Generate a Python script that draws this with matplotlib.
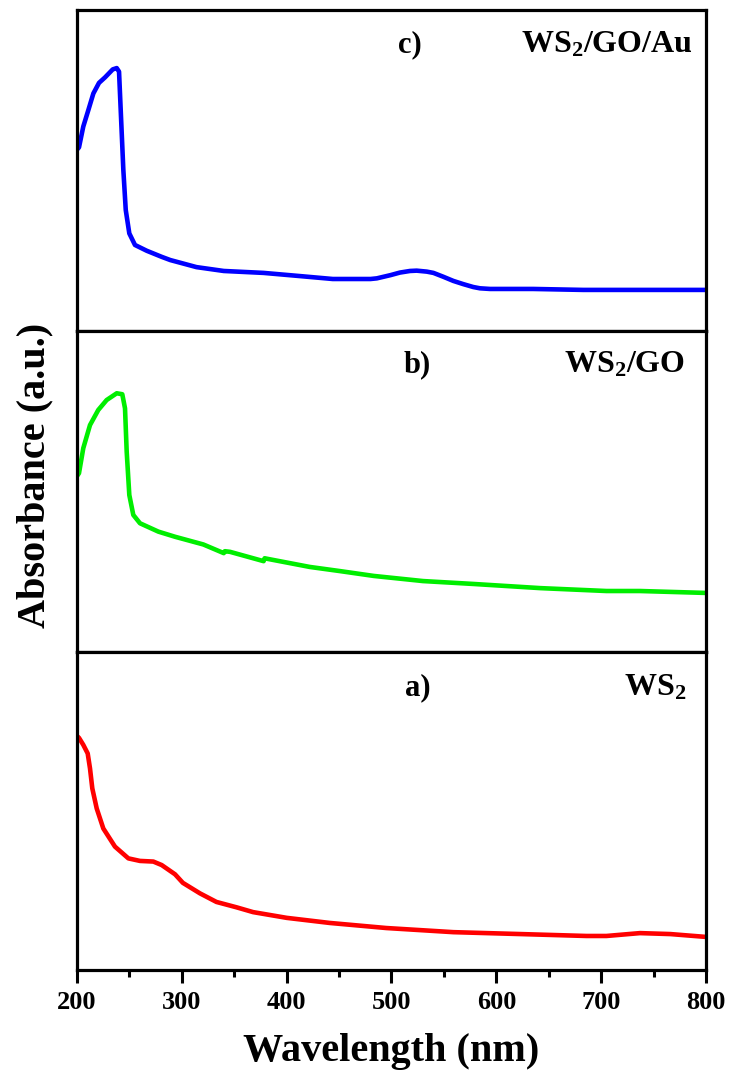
import matplotlib
matplotlib.use("Agg")
import matplotlib.pyplot as plt
from matplotlib.ticker import MultipleLocator

plt.rcParams['font.family'] = ['Liberation Serif', 'DejaVu Serif']
plt.rcParams['font.weight'] = 'bold'
plt.rcParams['mathtext.fontset'] = 'custom'
plt.rcParams['mathtext.rm'] = 'Liberation Serif:bold'
plt.rcParams['mathtext.bf'] = 'Liberation Serif:bold'
plt.rcParams['mathtext.it'] = 'Liberation Serif:bold'

# ---- data (normalized absorbance, a.u.) ----
wl_c = [200, 201.9, 206, 210.8, 215.6, 221, 226.7, 234.1, 237.9, 240.1, 241.7, 244.2,
        246.5, 249.9, 255.3, 266.5, 280.8, 289, 314, 340, 378, 413, 444, 480, 486,
        499, 508, 517.6, 524, 533.6, 540, 549.4, 559, 568.5, 578, 584.4, 594, 635,
        683, 730, 797, 800]
abs_c = [0.565, 0.572, 0.637, 0.688, 0.740, 0.773, 0.790, 0.815, 0.819, 0.808, 0.688,
         0.502, 0.377, 0.304, 0.268, 0.250, 0.231, 0.221, 0.199, 0.187, 0.181, 0.171,
         0.162, 0.162, 0.164, 0.174, 0.182, 0.187, 0.188, 0.185, 0.181, 0.169, 0.156,
         0.146, 0.137, 0.133, 0.131, 0.131, 0.128, 0.128, 0.128, 0.128]

wl_b = [200, 201.9, 206, 212.4, 220.3, 228.3, 237.9, 243.2, 245.8, 247.4, 249.9, 253.7,
        260.1, 277.6, 293.5, 320.5, 340, 341, 346, 378, 379, 382, 422, 451, 483, 530,
        578, 642, 705, 737, 800]
abs_b = [0.548, 0.557, 0.635, 0.707, 0.754, 0.785, 0.806, 0.803, 0.759, 0.624, 0.489,
         0.427, 0.401, 0.375, 0.359, 0.335, 0.308, 0.314, 0.312, 0.283, 0.292, 0.290,
         0.265, 0.252, 0.237, 0.221, 0.212, 0.199, 0.190, 0.190, 0.184]

wl_a = [200, 201.9, 206, 210.2, 212.4, 214.6, 218.8, 225.1, 236.2, 249, 260.1, 272.8,
        280.8, 293.5, 301, 317.3, 333, 352.3, 368, 400, 441, 495, 559, 623, 686, 705,
        737, 766, 800]
abs_a = [0.736, 0.730, 0.708, 0.681, 0.634, 0.571, 0.508, 0.445, 0.388, 0.351, 0.343,
         0.341, 0.330, 0.301, 0.274, 0.241, 0.214, 0.197, 0.182, 0.164, 0.148, 0.132,
         0.119, 0.113, 0.107, 0.107, 0.116, 0.113, 0.104]

panels = [
    (wl_c, abs_c, '#0000FF', 'c)', r'WS$_{2}$/GO/Au'),
    (wl_b, abs_b, '#00EE00', 'b)', r'WS$_{2}$/GO'),
    (wl_a, abs_a, '#FF0000', 'a)', r'WS$_{2}$'),
]
xticks = [200, 300, 400, 500, 600, 700, 800]

fig = plt.figure(figsize=(7.29, 10.79), dpi=100)
W, H = 729.0, 1079.0
left, right = 77 / W, 706 / W
edges = [10, 331, 652, 970]

label_pos = [(0.529, 0.891, 0.979), (0.541, 0.894, 0.967), (0.542, 0.887, 0.968)]

for i, (wl, ab, col, tag, name) in enumerate(panels):
    top = 1 - edges[i] / H
    bot = 1 - edges[i + 1] / H
    ax = fig.add_axes([left, bot, right - left, top - bot])
    ax.plot(wl, ab, color=col, lw=3.3, solid_joinstyle='round', solid_capstyle='butt')
    ax.set_xlim(200, 800)
    ax.set_ylim(0, 1)
    ax.set_yticks([])
    for s in ax.spines.values():
        s.set_linewidth(2.3)
    lx, ly, rx = label_pos[i]
    ax.text(lx, ly, tag, transform=ax.transAxes, ha='center', va='center',
            fontsize=22, fontweight='bold')
    ax.text(rx, ly, name, transform=ax.transAxes, ha='right', va='center',
            fontsize=23, fontweight='bold')
    if i < 2:
        ax.set_xticks([])
        ax.tick_params(axis='x', which='both', bottom=False, labelbottom=False)
    else:
        ax.set_xticks(xticks)
        ax.set_xticklabels([str(t) for t in xticks])
        ax.xaxis.set_minor_locator(MultipleLocator(50))
        ax.tick_params(axis='x', which='major', direction='out', length=9, width=2.2,
                       labelsize=19, pad=6)
        ax.tick_params(axis='x', which='minor', direction='out', length=5, width=2.2)
        for lab in ax.get_xticklabels():
            lab.set_fontweight('bold')
        ax.set_xlabel('Wavelength (nm)', fontsize=29, fontweight='bold', labelpad=14)

fig.text(35 / W, 1 - 475 / H, 'Absorbance (a.u.)', rotation=90, ha='center', va='center',
         fontsize=29, fontweight='bold')

fig.savefig('out.png', dpi=100)
